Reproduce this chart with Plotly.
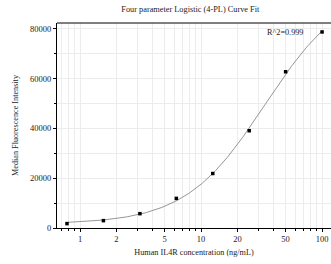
import numpy as np
import plotly.graph_objects as go

conc = [0.78, 1.56, 3.125, 6.25, 12.5, 25, 50, 100]
mfi = [1760, 2960, 5760, 11900, 21900, 39100, 62800, 78800]
x_ticks = [1, 2, 5, 10, 20, 50, 100]
y_ticks = [0, 20000, 40000, 60000, 80000]
r2_text = "R^2=0.999"

# 4PL fit: y = D + (A-D)/(1+(x/C)^B); grid search on B, C, linear solve for A, D
xd = np.array(conc, float); yd = np.array(mfi, float)
best = None
for B in np.linspace(0.5, 3.0, 126):
    for C in np.logspace(0, 3, 301):
        f = 1.0 / (1.0 + (xd / C) ** B)
        M = np.column_stack([f, 1 - f])
        coef, *_ = np.linalg.lstsq(M, yd, rcond=None)
        err = np.sum((M @ coef - yd) ** 2)
        if best is None or err < best[0]:
            best = (err, B, C, coef)
_, B, C, (A, D) = best
xc = np.logspace(np.log10(min(conc)), np.log10(max(conc)), 200)
yc = D + (A - D) / (1 + (xc / C) ** B)

fam = "Liberation Serif, Times New Roman, serif"
font = dict(family=fam, size=8.5, color="#222")
tfont = dict(family=fam, size=8.2, color="#222")
fig = go.Figure()
fig.add_trace(go.Scatter(x=xc, y=yc, mode="lines", line=dict(color="#8a8a8a", width=0.9),
                         hoverinfo="skip", showlegend=False, cliponaxis=False))
fig.add_trace(go.Scatter(x=conc, y=mfi, mode="markers", cliponaxis=False,
                         marker=dict(color="black", size=3.5, symbol="square"), showlegend=False))
fig.add_annotation(x=0.905, y=0.955, xref="paper", yref="paper", text=r2_text, showarrow=False,
                   xanchor="right", yanchor="middle", font=tfont)
fig.update_layout(
    width=331, height=264, margin=dict(l=57, r=0, t=23, b=36),
    paper_bgcolor="white", plot_bgcolor="white", font=font,
    title=dict(text="Four parameter Logistic (4-PL) Curve Fit", x=0.575, xanchor="center",
               y=0.975, yanchor="top", font=dict(family=fam, size=8.3, color="#222")),
)
fig.update_xaxes(type="log", range=[np.log10(0.645), 2.074], tickvals=x_ticks,
                 ticktext=[str(v) for v in x_ticks], ticks="outside", ticklen=3, tickwidth=1,
                 tickcolor="black", showline=True, linecolor="black", linewidth=1, mirror=False,
                 showgrid=True, gridcolor="#ececec", gridwidth=1, automargin=False,
                 tickfont=font,
                 minor=dict(tickvals=[0.7, 0.8, 0.9, 3, 4, 6, 7, 8, 9, 30, 40, 60, 70, 80, 90],
                            ticks="outside", ticklen=2, tickcolor="black", showgrid=True,
                            gridcolor="#ececec"),
                 title=dict(text="Human IL4R concentration (ng/mL)", standoff=6, font=tfont),
                 zeroline=False)
fig.update_yaxes(range=[0, 82400], tickvals=y_ticks, ticktext=[str(v) for v in y_ticks],
                 ticks="outside", ticklen=3, tickwidth=1, automargin=False,
                 tickcolor="black", showline=True, linecolor="black", linewidth=1,
                 showgrid=True, gridcolor="#ececec", zeroline=False, tickfont=font,
                 minor=dict(dtick=10000, ticks="outside", ticklen=2, tickcolor="black",
                            showgrid=True, gridcolor="#ececec"),
                 title=dict(text="Median Fluorescence Intensity", standoff=10, font=tfont))
fig.add_shape(type="line", xref="paper", yref="paper", x0=0, x1=1, y0=1, y1=1,
              line=dict(color="black", width=1))
fig.write_html("out.html", config={"displayModeBar": False},
               post_script="document.body.style.margin='0';")
